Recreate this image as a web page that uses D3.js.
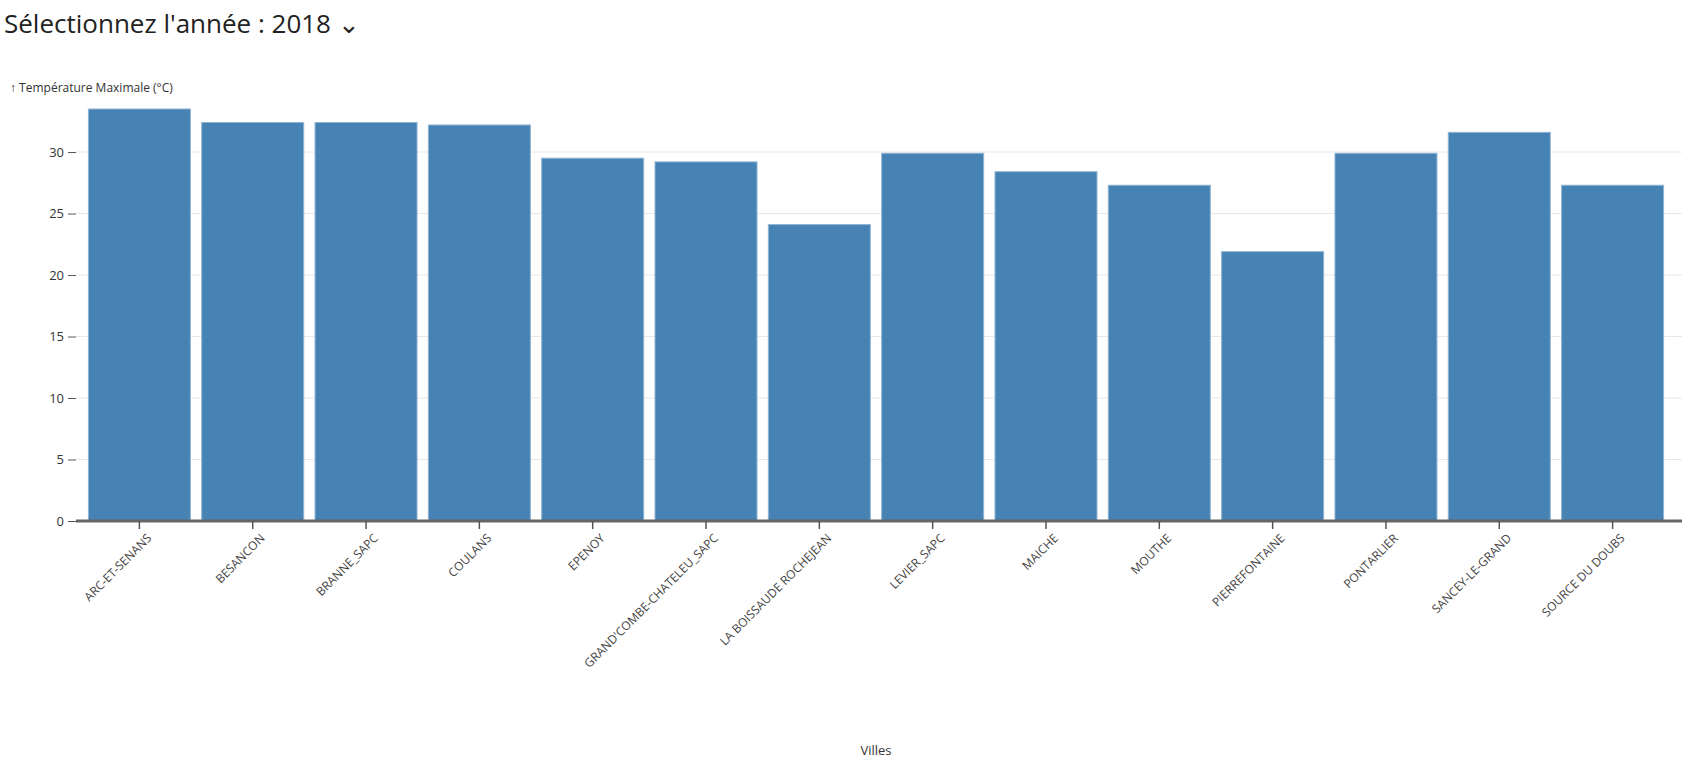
<!DOCTYPE html>
<html><head><meta charset="utf-8">
<script src="https://cdn.jsdelivr.net/npm/d3@7"></script>
<style>
body{margin:0;font-family:"Open Sans",sans-serif;background:#fff}
svg text{font-family:"Open Sans",sans-serif}
</style></head>
<body>
<svg id="chart" width="1682" height="772"></svg>
<script>
// data
var villes = ['ARC-ET-SENANS','BESANCON','BRANNE_SAPC','COULANS','EPENOY','GRAND\'COMBE-CHATELEU_SAPC',
  'LA BOISSAUDE ROCHEJEAN','LEVIER_SAPC','MAICHE','MOUTHE','PIERREFONTAINE','PONTARLIER','SANCEY-LE-GRAND','SOURCE DU DOUBS']
var tmax = [33.5, 32.4, 32.4, 32.2, 29.5, 29.2, 24.1, 29.9, 28.4, 27.3, 21.9, 29.9, 31.6, 27.3]
var yTicks = [0, 5, 10, 15, 20, 25, 30]
var annee = '2018'

var svg = d3.select('#chart')
var margin = {top: 109, left: 76, bottom: 251, right: 0}
var W = 1682, H = 772

var x = d3.scaleBand().domain(villes).range([85, 1667]).paddingInner(0.1).paddingOuter(0.03)
var y = d3.scaleLinear().domain([0, d3.max(tmax)]).range([H - margin.bottom, margin.top])

svg.append('text').attr('x', 4).attr('y', 33)
  .style('font-size', '26px').attr('fill', '#222')
  .text('Sélectionnez l\'année : ' + annee + ' \u2304')

// grid
svg.append('g').selectAll('line').data(yTicks.slice(1)).join('line')
  .attr('x1', margin.left).attr('x2', W)
  .attr('y1', function(d){ return y(d) }).attr('y2', function(d){ return y(d) })
  .attr('stroke', '#e8e8e8')

var yAxis = svg.append('g').attr('transform', 'translate(' + margin.left + ',0)')
  .call(d3.axisLeft(y).tickValues(yTicks).tickSize(8).tickPadding(4))
yAxis.select('.domain').remove()
yAxis.selectAll('line').attr('stroke', '#555')
yAxis.selectAll('text').style('font-size', '13px').attr('fill', '#333')

svg.append('text').attr('x', 10).attr('y', 92).style('font-size', '12px').attr('fill', '#333')
  .text('\u2191 Température Maximale (°C)')

svg.append('g').selectAll('rect').data(tmax).join('rect')
  .attr('x', function(d, i){ return x(villes[i]) })
  .attr('width', x.bandwidth())
  .attr('y', function(d){ return y(d) })
  .attr('height', function(d){ return y(0) - y(d) })
  .attr('fill', '#4682b4').attr('stroke', '#8fb3d3').attr('stroke-width', 1)

var xAxis = svg.append('g').attr('transform', 'translate(0,' + y(0) + ')')
  .call(d3.axisBottom(x).tickSize(8).tickSizeOuter(0))
xAxis.select('.domain').attr('d', 'M' + margin.left + ',0H' + W).attr('stroke', '#666').attr('stroke-width', 3)
xAxis.selectAll('line').attr('stroke', '#555').attr('stroke-width', 1.5)
xAxis.selectAll('text').style('font-size', '12px').attr('fill', '#444')
  .attr('text-anchor', 'end').attr('dx', '-0.3em').attr('dy', '0.9em')
  .attr('transform', 'rotate(-45)')

svg.append('text').attr('x', 876).attr('y', 755).attr('text-anchor', 'middle')
  .style('font-size', '13px').attr('fill', '#333').text('Villes')
</script>
</body></html>
